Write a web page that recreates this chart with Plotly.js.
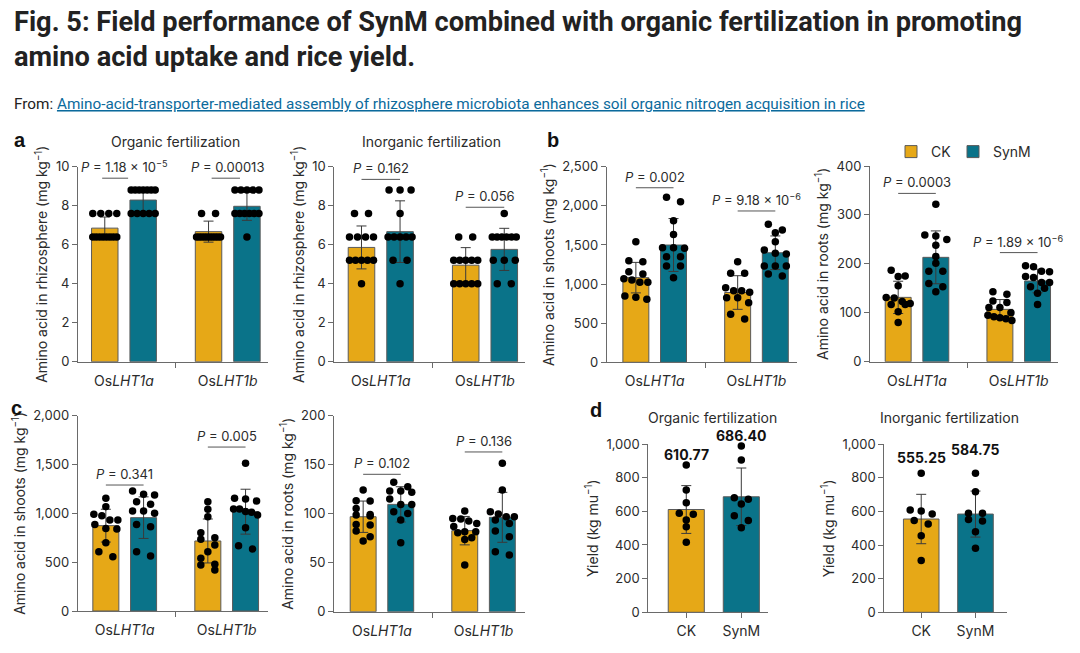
<!DOCTYPE html>
<html><head><meta charset="utf-8">
<script src="https://cdn.plot.ly/plotly-3.0.1.min.js"></script>
<style>html,body{margin:0;padding:0;background:#fff;}#chart{width:1080px;height:653px;}</style>
</head><body><div id="chart"></div>
<script>
// ================= DATA =================
const genes = ['Os<i>LHT1a</i>', 'Os<i>LHT1b</i>'];
const yieldGroups = ['CK', 'SynM'];
const seriesNames = ['CK', 'SynM'];

// a – amino acid in rhizosphere, organic fertilization
const rhizoOrgCKMean = [6.85, 6.67];
const rhizoOrgCKSD = [0.57, 0.54];
const rhizoOrgSynMMean = [8.29, 7.97];
const rhizoOrgSynMSD = [0.62, 0.72];
const rhizoOrgCKDots = [[7.6,7.6,7.6,7.6,6.4,6.4,6.4,6.4,6.4,6.4,6.4,6.4],[7.6,7.6,6.4,6.4,6.4,6.4,6.4,6.4,6.4,6.4,6.4,6.4]];
const rhizoOrgSynMDots = [[8.8,8.8,8.8,8.8,8.8,8.8,8.8,7.6,7.6,7.6,7.6,7.6],[8.8,8.8,8.8,8.8,8.8,7.6,7.6,7.6,7.6,7.6,7.6,6.4]];
const rhizoOrgP = ['<i>P</i> = 1.18 × 10<sup>−5</sup>', '<i>P</i> = 0.00013'];

// a – amino acid in rhizosphere, inorganic fertilization
const rhizoInorgCKMean = [5.86, 4.95];
const rhizoInorgCKSD = [1.1, 0.9];
const rhizoInorgSynMMean = [6.67, 5.76];
const rhizoInorgSynMSD = [1.58, 1.08];
const rhizoInorgCKDots = [[7.6,7.6,6.4,6.4,6.4,6.4,5.2,5.2,5.2,5.2,5.2,4.0],[6.4,6.4,5.2,5.2,5.2,5.2,5.2,4.0,4.0,4.0,4.0,4.0]];
const rhizoInorgSynMDots = [[8.8,8.8,8.8,7.6,6.4,6.4,6.4,6.4,6.4,5.2,5.2,4.0],[7.6,6.4,6.4,6.4,6.4,6.4,6.4,5.2,5.2,5.2,4.0,4.0]];
const rhizoInorgP = ['<i>P</i> = 0.162', '<i>P</i> = 0.056'];

// b – amino acid in shoots
const shootBCKMean = [1082, 892];
const shootBCKSD = [195, 215];
const shootBSynMMean = [1499, 1400];
const shootBSynMSD = [338, 215];
const shootBCKDots = [[1542,1299,1286,1129,1158,1069,1022,1052,1022,805,830,848],[1286,1137,1137,954,916,894,916,826,826,762,554,613]];
const shootBSynMDots = [[2053,2108,1810,1635,1465,1465,1457,1350,1350,1231,1231,1082],[1691,1763,1657,1542,1393,1435,1384,1231,1231,1231,1103,1129]];
const shootBP = ['<i>P</i> = 0.002', '<i>P</i> = 9.18 × 10<sup>−6</sup>'];

// b – amino acid in roots
const rootBCKMean = [131.5, 107];
const rootBCKSD = [33, 20];
const rootBSynMMean = [213.3, 165];
const rootBSynMSD = [54, 24];
const rootBCKDots = [[187,175,174,155,131,130,123,117,117,119,102,80],[138,143,124,121,111,111,92,100,95,90,84,88]];
const rootBSynMDots = [[322,259,257,250,238,215,201,185,185,160,143,153],[194,196,185,184,162,174,172,162,140,150,153,117]];
const rootBP = ['<i>P</i> = 0.0003', '<i>P</i> = 1.89 × 10<sup>−6</sup>'];

// c – amino acid in shoots
const shootCCKMean = [874, 717];
const shootCCKSD = [168, 225];
const shootCSynMMean = [956, 1017];
const shootCSynMSD = [213, 230];
const shootCCKDots = [[1154,1068,990,932,840,976,887,556,932,846,608,700],[1119,1041,966,751,802,676,734,608,420,478,471,539]];
const shootCSynMDots = [[1229,1195,1188,1119,1092,1024,1024,1000,863,887,563,608],[1512,1147,1154,1126,1044,1044,1010,983,853,669,635,1020]];
const shootCP = ['<i>P</i> = 0.341', '<i>P</i> = 0.005'];

// c – amino acid in roots
const rootCCKMean = [96.9, 82.7];
const rootCCKSD = [16, 14.5];
const rootCSynMMean = [109.5, 96.3];
const rootCSynMSD = [18, 25.5];
const rootCCKDots = [[124.1,112.9,113.3,105.4,97.6,98.6,99.3,88.4,89.1,82.3,76.5,72.1],[102.7,92.5,95.2,94.6,90.1,81.6,87,80.6,81.6,73.8,75.5,47.6]];
const rootCSynMDots = [[132,127.6,123.1,123.1,121.8,109.5,109.5,115,102,100.3,93.5,70.4],[151.4,124.1,102,99.7,96.9,96.9,93.5,90.1,82.3,76.5,57.8,61.2]];
const rootCP = ['<i>P</i> = 0.102', '<i>P</i> = 0.136'];

// d – yield
const yieldOrgMean = [610.77, 686.40];
const yieldOrgSD = [142, 171];
const yieldOrgDots = [[875,727,651,582,588,548,509,416],[988,905,671,681,644,574,545,503]];
const yieldInorgMean = [555.25, 584.75];
const yieldInorgSD = [147, 137];
const yieldInorgDots = [[827,585,546,603,609,526,456,308],[827,718,589,589,553,543,480,381]];

// ================= STYLE / LAYOUT =================
const W = 1080, H = 653;
const px2x = p => p / W;
const px2y = p => 1 - p / H;
const FONT = 'Inter, "Liberation Sans", Arial, sans-serif';
const COLORS = ['#E6A817', '#0A7389'];
const AXIS = '#6a6a6a';
const TXT = '#2b2b2b';
const OFF = 0.185, BARW = 0.255;

const panels = [
  {kind:'gene', mean:[rhizoOrgCKMean, rhizoOrgSynMMean], sd:[rhizoOrgCKSD, rhizoOrgSynMSD], dots:[rhizoOrgCKDots, rhizoOrgSynMDots], p:rhizoOrgP,
   box:[78,268,166.7,361.7], xr:[-0.443,1.388], yr:[0,10], dtick:2, ytitle:'Amino acid in rhizosphere (mg kg<sup>−1</sup>)',
   pY:[9.41,9.41], pSpan:[[-0.21,0.04],[-0.155,0.118]], title:'Organic fertilization'},
  {kind:'gene', mean:[rhizoInorgCKMean, rhizoInorgSynMMean], sd:[rhizoInorgCKSD, rhizoInorgSynMSD], dots:[rhizoInorgCKDots, rhizoInorgSynMDots], p:rhizoInorgP,
   box:[334.3,525,166.7,361.7], xr:[-0.446,1.384], yr:[0,10], dtick:2, ytitle:'Amino acid in rhizosphere (mg kg<sup>−1</sup>)',
   pY:[9.35,7.92], title:'Inorganic fertilization'},
  {kind:'gene', mean:[shootBCKMean, shootBSynMMean], sd:[shootBCKSD, shootBSynMSD], dots:[shootBCKDots, shootBSynMDots], p:shootBP,
   box:[606.7,797,166.7,362.3], xr:[-0.4715,1.398], yr:[0,2500], dtick:500, ytitle:'Amino acid in shoots (mg kg<sup>−1</sup>)',
   pY:[2231,1934]},
  {kind:'gene', mean:[rootBCKMean, rootBSynMMean], sd:[rootBCKSD, rootBSynMSD], dots:[rootBCKDots, rootBSynMDots], p:rootBP,
   box:[870,1058,166,361.7], xr:[-0.462,1.386], yr:[0,400], dtick:100, ytitle:'Amino acid in roots (mg kg<sup>−1</sup>)',
   pY:[344,223]},
  {kind:'gene', mean:[shootCCKMean, shootCSynMMean], sd:[shootCCKSD, shootCSynMSD], dots:[shootCCKDots, shootCSynMDots], p:shootCP,
   box:[77.7,268.3,415.7,611], xr:[-0.461,1.408], yr:[0,2000], dtick:500, ytitle:'Amino acid in shoots (mg kg<sup>−1</sup>)',
   pY:[1290,1679]},
  {kind:'gene', mean:[rootCCKMean, rootCSynMMean], sd:[rootCCKSD, rootCSynMSD], dots:[rootCCKDots, rootCSynMDots], p:rootCP,
   box:[334,525,415.7,611.7], xr:[-0.472,1.408], yr:[0,200], dtick:50, ytitle:'Amino acid in roots (mg kg<sup>−1</sup>)',
   pY:[140.2,163]},
  {kind:'yield', mean:yieldOrgMean, sd:yieldOrgSD, dots:yieldOrgDots,
   box:[648.3,768,444,612.3], xr:[-0.69,1.485], yr:[0,1000], dtick:200, ytitle:'Yield (kg mu<sup>−1</sup>)',
   labelPx:[454, 435.5], title:'Organic fertilization'},
  {kind:'yield', mean:yieldInorgMean, sd:yieldInorgSD, dots:yieldInorgDots,
   box:[884.3,1006.7,444.3,612.3], xr:[-0.68,1.575], yr:[0,1000], dtick:200, ytitle:'Yield (kg mu<sup>−1</sup>)',
   labelPx:[458, 449.5], title:'Inorganic fertilization'}
];

// horizontal spreading of dots (Prism-like rows)
function spread(values, pxPerY, pxPerX) {
  const order = values.map((v,i)=>i).sort((a,b)=>values[b]-values[a]);
  const rows = [];
  order.forEach(i => {
    const last = rows[rows.length-1];
    if (last && (values[last[0]] - values[i]) * pxPerY < 6) last.push(i); else rows.push([i]);
  });
  const off = new Array(values.length).fill(0);
  rows.forEach(r => {
    const k = r.length; let pos;
    if (k === 1) pos = [0];
    else if (k === 2) pos = [-7, 7];
    else { const half = Math.min(11*(k-1)/2, 12); pos = r.map((_,j)=> -half + 2*half*j/(k-1)); }
    r.forEach((i,j) => off[i] = pos[j] / pxPerX);
  });
  return off;
}

const traces = [], annotations = [], shapes = [];
const legendStyle = {orientation:'h', yanchor:'middle', xanchor:'left', font:{size:14, color:TXT},
                     bgcolor:'rgba(0,0,0,0)', itemclick:false, itemdoubleclick:false};
const layout = {
  width: W, height: H, margin:{l:0,r:0,t:0,b:0}, paper_bgcolor:'#fff', plot_bgcolor:'rgba(0,0,0,0)',
  barmode:'overlay', hovermode:false, showlegend:true,
  font:{family:FONT, color:TXT, size:13},
  legend: Object.assign({x:px2x(891), y:px2y(152)}, legendStyle),
  legend2: Object.assign({x:px2x(953), y:px2y(152)}, legendStyle)
};

panels.forEach((P, k) => {
  const n = k + 1, sfx = n === 1 ? '' : String(n);
  const xa = 'x' + sfx, ya = 'y' + sfx;
  const [L, R, T, B] = P.box;
  const pxPerX = (R - L) / (P.xr[1] - P.xr[0]);
  const pxPerY = (B - T) / (P.yr[1] - P.yr[0]);
  const isY = P.kind === 'yield';

  // bars with SD error bars
  for (let t = 0; t < 2; t++) {
    const xs = isY ? [t] : [0 - OFF + 2*OFF*t, 1 - OFF + 2*OFF*t];
    traces.push({
      type:'bar', xaxis:xa, yaxis:ya, name:seriesNames[t], legend: t === 0 ? 'legend' : 'legend2',
      showlegend:(k === 3),
      x: xs, y: isY ? [P.mean[t]] : P.mean[t], width: isY ? 0.655 : BARW,
      marker:{color:COLORS[t], line:{color:'#5a5a5a', width:1}},
      error_y:{type:'data', array: isY ? [P.sd[t]] : P.sd[t], visible:true, color:'#3a3a3a', thickness:1, width:5},
      hoverinfo:'skip'
    });
  }
  // individual points
  const dx = [], dy = [];
  for (let t = 0; t < 2; t++) {
    const groups = isY ? [P.dots[t]] : P.dots[t];
    groups.forEach((vals, i) => {
      const center = isY ? t : i - OFF + 2*OFF*t;
      const off = spread(vals, pxPerY, pxPerX);
      vals.forEach((v, j) => { dx.push(center + off[j]); dy.push(v); });
    });
  }
  traces.push({type:'scatter', mode:'markers', xaxis:xa, yaxis:ya, x:dx, y:dy, showlegend:false, cliponaxis:false,
    marker:{color:'#000', size:7.5, line:{width:0}}, hoverinfo:'skip'});

  // axes
  layout['xaxis' + sfx] = {
    domain:[px2x(L), px2x(R)], range:P.xr, anchor:ya, showline:true, linecolor:AXIS, linewidth:1,
    showgrid:false, zeroline:false, fixedrange:true,
    tickmode:'array', tickvals:[0,1], ticktext: isY ? yieldGroups : genes,
    ticks: isY ? 'outside' : '', ticklen:5, tickcolor:AXIS, tickfont:{size:14, color:TXT},
    ticklabelstandoff: isY ? 1 : 6,
    minor: isY ? undefined : {tickmode:'array', tickvals:[0.5], ticks:'outside', ticklen:5, tickcolor:AXIS, tickwidth:1, showgrid:false}
  };
  layout['yaxis' + sfx] = {
    domain:[px2y(B), px2y(T)], range:P.yr, anchor:xa, showline:true, linecolor:AXIS, linewidth:1,
    showgrid:false, zeroline:false, fixedrange:true, tickmode:'linear', tick0:0, dtick:P.dtick, tickformat:',',
    ticks:'outside', ticklen:5, tickcolor:AXIS, tickfont:{size:13, color:TXT},
    title:{text:P.ytitle, font:{size:14, color:TXT}, standoff:4}
  };

  // significance brackets and P values
  if (!isY) {
    P.p.forEach((txt, i) => {
      const span = P.pSpan ? P.pSpan[i] : [-OFF, OFF];
      shapes.push({type:'line', xref:xa, yref:ya, x0:i + span[0], x1:i + span[1], y0:P.pY[i], y1:P.pY[i],
                   line:{color:'#555', width:1}});
      annotations.push({xref:xa, yref:ya, x:i, y:P.pY[i], text:txt, showarrow:false, yanchor:'bottom', yshift:1,
                        font:{size:13, color:TXT}});
    });
  } else {
    P.mean.forEach((m, t) => {
      annotations.push({xref:xa, yref:'paper', x:t, y:px2y(P.labelPx[t]), yanchor:'middle', text:'<b>' + m.toFixed(2) + '</b>',
                        showarrow:false, font:{size:14, color:'#111'}});
    });
  }
  if (P.title) {
    annotations.push({xref:'paper', yref:'paper', x:px2x(isY ? (L+R)/2 + 4 : (L+R)/2 + 2), y:px2y(isY ? 417 : 141.7),
                      xanchor:'center', yanchor:'middle', text:P.title, showarrow:false, font:{size:14, color:TXT}});
  }
});

// panel letters
[['a',12,140],['b',545,140],['c',9,408],['d',588,410]].forEach(([s,x,y]) => {
  annotations.push({xref:'paper', yref:'paper', x:px2x(x), y:px2y(y), xanchor:'left', yanchor:'middle',
                    text:'<b>' + s + '</b>', showarrow:false, font:{size:20, color:'#111', family:'Arial, "Liberation Sans", sans-serif'}});
});

// page heading
annotations.push({xref:'paper', yref:'paper', x:px2x(12), y:px2y(4), xanchor:'left', yanchor:'top', align:'left',
  text:'<b>Fig. 5: Field performance of SynM combined with organic fertilization in promoting<br>amino acid uptake and rice yield.</b>',
  showarrow:false, font:{size:27.2, color:'#222', family:'Roboto, "Liberation Sans", sans-serif'}});
annotations.push({xref:'paper', yref:'paper', x:px2x(12), y:px2y(104), xanchor:'left', yanchor:'middle', align:'left',
  text:'From: <span style="color:#0b6a9c"><u>Amino-acid-transporter-mediated assembly of rhizosphere microbiota enhances soil organic nitrogen acquisition in rice</u></span>',
  showarrow:false, font:{size:15.3, color:'#222', family:'Roboto, "Liberation Sans", sans-serif'}});

layout.annotations = annotations;
layout.shapes = shapes;

Plotly.newPlot('chart', traces, layout, {staticPlot:true, displayModeBar:false});
</script>
</body></html>
